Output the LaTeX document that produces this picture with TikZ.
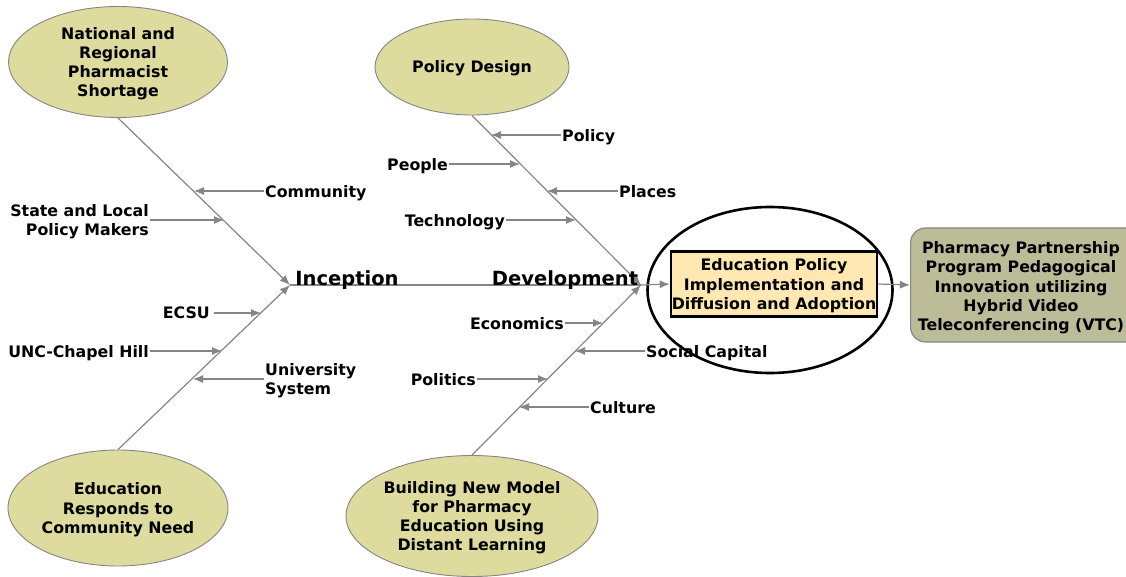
\documentclass[tikz,border=0pt]{standalone}
\usepackage{fontspec}
\setmainfont{DejaVu Sans}
\usepackage{tikz}
\usetikzlibrary{arrows.meta,positioning,shapes.geometric}
\definecolor{khaki}{HTML}{DEDB9E}
\definecolor{cream}{HTML}{FFE8B2}
\definecolor{sage}{HTML}{BDBC99}
\definecolor{bonegray}{HTML}{858585}
\newcommand{\ribfont}{\fontsize{15.8}{19.3}\selectfont\bfseries}
\newcommand{\stagefont}{\fontsize{19.5}{23}\selectfont\bfseries}

\begin{document}
\begin{tikzpicture}[x=1pt,y=-1pt,>={Latex[length=10pt,width=8pt]}]
    \tikzstyle{bone} = [->, bonegray, line width=1.2pt]
    \tikzstyle{cause} = [shape=ellipse, draw=bonegray, fill=khaki, line width=0.9pt, align=center, inner sep=0, text depth=0, font=\ribfont]
    \tikzstyle{lbl} = [font=\ribfont, inner sep=1pt, text depth=0]
    \useasboundingbox (0,0) rectangle (1126,577);

    % cause heads
    \node[cause, minimum width=219, minimum height=111] (natl) at (118,62) {National and\\Regional\\Pharmacist\\Shortage};
    \node[cause, minimum width=194, minimum height=96] (design) at (472,67) {Policy Design};
    \node[cause, minimum width=220, minimum height=116] (edu) at (118,508) {Education\\Responds to\\Community Need};
    \node[cause, minimum width=252, minimum height=121] (model) at (472,516) {Building New Model\\for Pharmacy\\Education Using\\Distant Learning};

    % effect side
    \node[ellipse, draw=black, line width=2.6pt, minimum width=245, minimum height=166] (ring) at (770,290) {};
    \node[rectangle, draw=black, fill=cream, line width=2.6pt, minimum width=206, minimum height=65, inner sep=0, align=center, text depth=0, font=\ribfont] (impl) at (774,284) {Education Policy\\Implementation and\\Diffusion and Adoption};
    \node[rectangle, rounded corners=15, draw=bonegray, fill=sage, line width=1.2pt, minimum width=230, minimum height=114, anchor=west, inner sep=0] (vtc) at (910,285) {};
    \node[align=center, font=\ribfont, inner sep=0, text depth=0] (vtctext) at (1021,286) {Pharmacy Partnership\\Program Pedagogical\\Innovation utilizing\\Hybrid Video\\Teleconferencing (VTC)};

    % spine
    \coordinate (incep) at (290,285);
    \coordinate (devel) at (641,285);
    \draw[bone] (natl.south) -- (incep);
    \draw[bone] (edu.north) -- (incep);
    \draw[bone] (design.south) -- (devel);
    \draw[bone] (model.north) -- (devel);
    \draw[bonegray, line width=1.2pt] (incep) -- (devel);
    \draw[bone] (devel) -- (impl.west);
    \draw[bone] (impl.east) -- (vtc.west);
    \node[font=\stagefont, inner sep=0, text depth=0] (inlbl) at (347,278) {Inception};
    \node[font=\stagefont, inner sep=0, text depth=0] (devlbl) at (565,278) {Development};

    % ribs, upper left
    \node[lbl, anchor=west] (comm) at (264,191) {Community};
    \node[lbl, anchor=east, align=right] (makers) at (150,220) {State and Local\\Policy Makers};
    \coordinate (p-comm) at (194,191);
    \coordinate (p-makers) at (224,220);
    \draw[bone] (comm.west) -- (p-comm);
    \draw[bone] (makers.east) -- (p-makers);

    % ribs, lower left
    \node[lbl, anchor=east] (ecsu) at (211,313) {ECSU};
    \node[lbl, anchor=east] (unc) at (150,351) {UNC-Chapel Hill};
    \node[lbl, anchor=west, align=left] (univ) at (264,379) {University\\System};
    \coordinate (p-ecsu) at (261,313);
    \coordinate (p-unc) at (222,351);
    \coordinate (p-univ) at (193,379);
    \draw[bone] (ecsu.east) ++(3,0) -- (p-ecsu);
    \draw[bone] (unc.east) -- (p-unc);
    \draw[bone] (univ.west) -- (p-univ);

    % ribs, upper right
    \node[lbl, anchor=west] (policy) at (561,135) {Policy};
    \node[lbl, anchor=east] (people) at (449,164) {People};
    \node[lbl, anchor=west] (places) at (618,191) {Places};
    \node[lbl, anchor=east] (tech) at (506,220) {Technology};
    \coordinate (p-policy) at (491,135);
    \coordinate (p-people) at (520,164);
    \coordinate (p-places) at (547,191);
    \coordinate (p-tech) at (576,220);
    \draw[bone] (policy.west) -- (p-policy);
    \draw[bone] (people.east) -- (p-people);
    \draw[bone] (places.west) -- (p-places);
    \draw[bone] (tech.east) -- (p-tech);

    % ribs, lower right
    \node[lbl, anchor=east] (econ) at (565,323) {Economics};
    \node[lbl, anchor=west] (social) at (645,351) {Social Capital};
    \node[lbl, anchor=east] (politics) at (477,379) {Politics};
    \node[lbl, anchor=west] (culture) at (589,407) {Culture};
    \coordinate (p-econ) at (603,323);
    \coordinate (p-social) at (575,351);
    \coordinate (p-politics) at (548,379);
    \coordinate (p-culture) at (519,407);
    \draw[bone] (econ.east) -- (p-econ);
    \draw[bone] (social.west) -- (p-social);
    \draw[bone] (politics.east) -- (p-politics);
    \draw[bone] (culture.west) -- (p-culture);
\end{tikzpicture}
\end{document}
